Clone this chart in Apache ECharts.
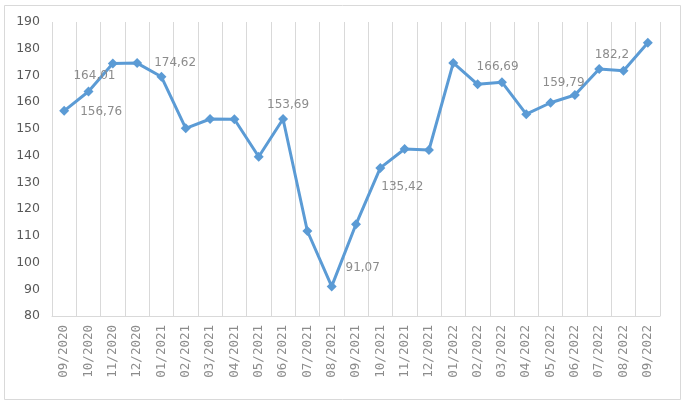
<!DOCTYPE html>
<html>
<head>
<meta charset="utf-8">
<script src="https://cdn.jsdelivr.net/npm/echarts@6/dist/echarts.min.js"></script>
<style>html,body{margin:0;padding:0;background:#fff;}#chart{width:685px;height:401px;}</style>
</head>
<body>
<div id="chart"></div>
<script>
var categories = ['09/2020','10/2020','11/2020','12/2020','01/2021','02/2021','03/2021','04/2021','05/2021','06/2021','07/2021','08/2021','09/2021','10/2021','11/2021','12/2021','01/2022','02/2022','03/2022','04/2022','05/2022','06/2022','07/2022','08/2022','09/2022'];
var values = [156.76,164.01,174.5,174.62,169.5,150.2,153.7,153.6,139.6,153.69,111.8,91.07,114.3,135.42,142.5,142.1,174.7,166.69,167.5,155.5,159.79,162.7,172.4,171.8,182.2];
var labelledIndices = [0,1,3,9,11,13,17,20,24];
var yTicks = [80,90,100,110,120,130,140,150,160,170,180,190];

// label placement (styling only)
var labelOffsets = {0:[37,1],1:[6,-16],3:[38,0],9:[5,-14],11:[31,-19],13:[22,19],17:[20,-17],20:[13,-20],24:[-36,12]};

var seriesData = values.map(function(v,i){
  var item = {value: v};
  if (labelledIndices.indexOf(i) >= 0) {
    item.label = {
      show: true, position: 'inside', offset: labelOffsets[i],
      formatter: function(p){ return String(p.value).replace('.', ','); },
      color: '#8c8c8c', fontSize: 12, fontFamily: 'DejaVu Sans'
    };
  }
  return item;
});

var chart = echarts.init(document.getElementById('chart'), null, {renderer:'canvas'});
chart.setOption({
  animation: false,
  backgroundColor: '#ffffff',
  graphic: [{
    type: 'rect', left: 2, top: 3, silent: true,
    shape: {width: 676, height: 394},
    style: {fill: 'none', stroke: '#d9d9d9', lineWidth: 1}
  }],
  grid: {left: 52, right: 25, top: 22, bottom: 85, containLabel: false},
  xAxis: {
    type: 'category', data: categories, boundaryGap: true,
    axisLine: {show: true, lineStyle: {color: '#d9d9d9', width: 1}},
    axisTick: {show: false},
    splitLine: {show: true, showMinLine: true, showMaxLine: true, lineStyle: {color: '#d9d9d9', width: 1}},
    axisLabel: {rotate: 90, interval: 0, margin: 9, color: '#8c8c8c', fontSize: 12.5, fontFamily: 'DejaVu Sans Mono'}
  },
  yAxis: {
    type: 'value', min: yTicks[0], max: yTicks[yTicks.length-1], interval: 10,
    axisLine: {show: false}, axisTick: {show: false}, splitLine: {show: false},
    axisLabel: {color: '#595959', fontSize: 12.5, fontFamily: 'DejaVu Sans', margin: 12}
  },
  series: [{
    type: 'line', data: seriesData,
    symbol: 'diamond', symbolSize: 10,
    lineStyle: {color: '#5b9bd5', width: 3},
    itemStyle: {color: '#5b9bd5'}
  }]
});
</script>
</body>
</html>
